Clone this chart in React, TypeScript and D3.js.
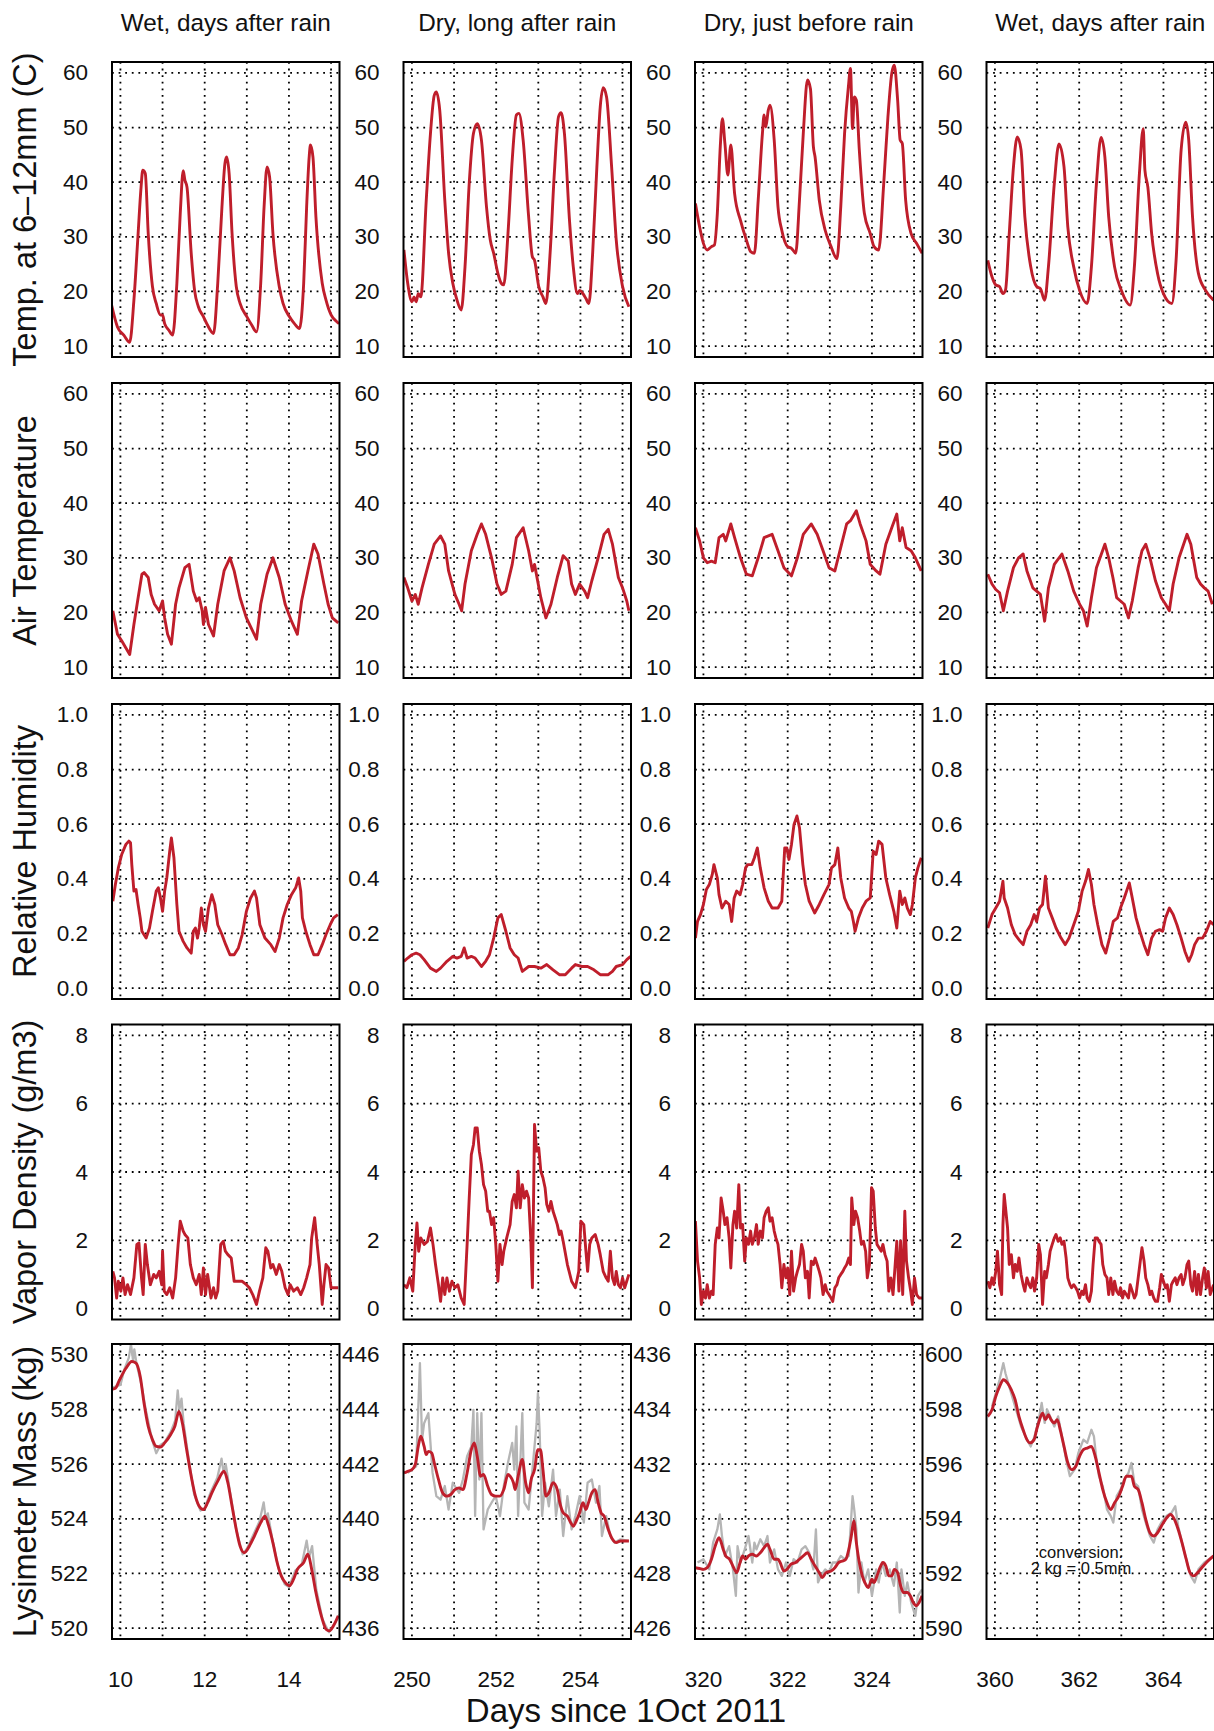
import React from "react";
import * as d3 from "d3";

type P = [number, number];

// ---------- labels ----------
const columnTitles = ["Wet, days after rain", "Dry, long after rain", "Dry, just before rain", "Wet, days after rain"];
const rowLabels = ["Temp. at 6\u201312mm (C)", "Air Temperature", "Relative Humidity", "Vapor Density (g/m3)", "Lysimeter Mass (kg)"];
const dayStarts = [10, 250, 320, 360];
const xTickOffsets = [0, 2, 4];
const tempTicks = [10, 20, 30, 40, 50, 60];
const rhTicks = [0, 0.2, 0.4, 0.6, 0.8, 1.0];
const vdTicks = [0, 2, 4, 6, 8];
const lysBases = [520, 436, 426, 590];
const lysTickSteps = [0, 2, 4, 6, 8, 10];
const xAxisTitle = "Days since 1Oct 2011";
const conversionNote = ["conversion:", "2 kg = 0.5mm"];

// ---------- Row 1: soil temperature at 6-12mm ----------
const soilT_wet1: P[] = [[9.79,17.5],[9.93,13.5],[10.08,12.0],[10.22,10.7],[10.32,18.4],[10.42,30.6],[10.49,39.1],[10.53,42.2],[10.59,41.6],[10.66,30.6],[10.76,20.9],[10.85,17.8],[10.95,15.7],[11.0,15.7],[11.05,14.1],[11.15,12.9],[11.24,12.0],[11.34,21.5],[11.42,34.3],[11.49,42.1],[11.53,40.4],[11.58,39.1],[11.68,27.0],[11.76,20.2],[11.85,17.2],[11.97,15.4],[12.07,13.8],[12.21,12.3],[12.31,21.5],[12.41,35.5],[12.48,43.4],[12.52,44.6],[12.58,41.6],[12.65,30.6],[12.75,20.9],[12.84,17.8],[13.0,15.4],[13.12,13.8],[13.23,12.6],[13.33,21.5],[13.41,35.5],[13.48,42.8],[13.54,41.0],[13.62,30.6],[13.77,20.9],[13.86,17.8],[14.01,15.4],[14.13,14.1],[14.25,13.2],[14.35,21.5],[14.42,35.5],[14.48,44.6],[14.51,46.8],[14.57,44.6],[14.64,33.7],[14.79,21.5],[14.88,18.4],[15.0,15.7],[15.13,14.5],[15.19,14.1]];
const soilT_dry1: P[] = [[249.81,27.6],[249.9,21.5],[250.0,18.1],[250.05,19.0],[250.1,18.1],[250.15,19.6],[250.21,19.0],[250.34,36.7],[250.44,48.9],[250.53,55.9],[250.58,56.5],[250.66,53.2],[250.78,36.7],[250.87,27.0],[250.97,21.5],[251.07,18.4],[251.17,16.6],[251.26,24.5],[251.36,39.8],[251.46,48.9],[251.55,50.7],[251.65,47.7],[251.77,35.5],[251.86,29.4],[251.94,27.0],[252.04,23.3],[252.12,21.5],[252.18,21.2],[252.28,30.6],[252.38,44.0],[252.48,52.3],[252.54,52.6],[252.64,47.7],[252.77,33.7],[252.86,26.3],[252.91,25.7],[253.01,20.9],[253.11,19.0],[253.18,17.8],[253.28,27.0],[253.38,41.6],[253.48,52.0],[253.54,52.7],[253.62,48.9],[253.74,33.0],[253.83,24.5],[253.93,19.6],[253.98,20.2],[254.06,19.6],[254.13,18.7],[254.2,17.8],[254.29,27.0],[254.39,42.8],[254.47,53.8],[254.54,57.3],[254.62,55.6],[254.74,42.8],[254.85,29.4],[255.0,20.9],[255.15,17.2]];
const soilT_dry2: P[] = [[319.81,36.1],[319.91,31.8],[320.0,28.8],[320.09,27.6],[320.19,28.2],[320.26,28.5],[320.33,34.3],[320.4,46.5],[320.45,51.6],[320.51,47.1],[320.58,41.3],[320.65,46.8],[320.74,37.9],[320.88,33.0],[321.02,29.4],[321.12,27.3],[321.21,27.0],[321.3,36.7],[321.4,48.9],[321.44,52.3],[321.48,50.1],[321.54,53.2],[321.58,54.1],[321.68,47.7],[321.77,35.5],[321.86,31.2],[322.0,28.2],[322.09,27.9],[322.19,27.0],[322.28,36.7],[322.37,48.9],[322.47,58.7],[322.54,57.1],[322.61,46.5],[322.65,44.6],[322.75,36.7],[322.89,31.2],[323.03,28.2],[323.17,26.0],[323.26,35.5],[323.35,48.9],[323.44,57.4],[323.49,60.8],[323.54,49.8],[323.58,55.6],[323.63,55.0],[323.7,45.9],[323.82,34.3],[323.96,30.6],[324.05,28.2],[324.16,27.6],[324.28,39.8],[324.38,52.0],[324.47,59.9],[324.53,61.4],[324.61,55.0],[324.67,47.7],[324.72,47.1],[324.8,36.7],[324.93,30.6],[325.06,28.8],[325.19,27.0]];
const soilT_wet2: P[] = [[359.83,25.7],[359.93,22.7],[360.02,21.2],[360.11,20.9],[360.19,19.6],[360.25,20.2],[360.34,30.6],[360.44,42.8],[360.53,48.3],[360.62,45.9],[360.71,33.7],[360.85,24.5],[360.99,20.9],[361.08,20.5],[361.18,18.4],[361.27,24.5],[361.41,39.8],[361.52,47.0],[361.64,42.8],[361.73,31.8],[361.87,24.5],[362.01,20.2],[362.19,17.8],[362.29,24.5],[362.41,39.8],[362.52,48.2],[362.61,44.6],[362.7,33.7],[362.84,24.5],[363.0,20.2],[363.21,17.5],[363.31,24.5],[363.43,41.6],[363.52,49.8],[363.56,42.2],[363.63,39.1],[363.72,30.6],[363.86,23.3],[364.0,19.6],[364.2,17.8],[364.3,25.7],[364.42,45.9],[364.53,51.0],[364.6,47.7],[364.69,33.7],[364.83,23.3],[365.0,20.2],[365.19,18.4]];

// ---------- Row 2: air temperature ----------
const airT_wet1: P[] = [[9.82,20.3],[9.93,16.0],[10.03,14.8],[10.13,13.5],[10.22,12.3],[10.32,17.8],[10.42,22.7],[10.51,27.0],[10.56,27.3],[10.66,26.4],[10.73,23.3],[10.81,21.5],[10.92,20.3],[11.0,22.1],[11.05,19.0],[11.12,16.0],[11.21,14.2],[11.31,21.5],[11.39,24.5],[11.53,28.2],[11.63,28.8],[11.73,23.9],[11.81,22.1],[11.87,22.7],[11.94,20.3],[11.97,17.8],[12.02,20.9],[12.09,17.8],[12.21,15.7],[12.31,21.5],[12.46,27.6],[12.6,30.0],[12.7,27.6],[12.84,22.7],[12.99,19.0],[13.14,16.6],[13.23,15.1],[13.33,21.5],[13.48,27.0],[13.62,30.0],[13.77,26.4],[13.91,21.5],[14.06,18.4],[14.2,16.0],[14.3,22.1],[14.45,27.6],[14.59,32.5],[14.69,30.7],[14.83,25.2],[14.93,21.5],[15.03,19.0],[15.17,18.1]];
const airT_dry1: P[] = [[249.81,26.4],[249.9,24.5],[250.0,22.1],[250.08,23.3],[250.15,21.5],[250.24,24.5],[250.39,28.8],[250.53,32.5],[250.68,34.0],[250.78,32.5],[250.87,27.6],[251.02,23.3],[251.12,21.5],[251.18,20.3],[251.26,25.2],[251.41,31.3],[251.55,34.3],[251.65,36.2],[251.75,34.3],[251.89,30.0],[252.02,25.2],[252.12,23.3],[252.23,23.9],[252.38,28.8],[252.48,33.7],[252.64,35.5],[252.77,31.3],[252.86,27.6],[252.91,28.8],[253.06,22.7],[253.18,19.0],[253.3,21.5],[253.45,26.4],[253.59,30.4],[253.71,29.4],[253.79,25.2],[253.88,23.3],[253.98,25.2],[254.1,23.9],[254.17,22.7],[254.27,25.8],[254.42,30.0],[254.56,34.3],[254.66,35.2],[254.76,32.5],[254.9,26.4],[255.0,24.5],[255.1,22.1],[255.15,20.3]];
const airT_dry2: P[] = [[319.81,35.5],[319.91,33.1],[320.0,30.0],[320.09,29.1],[320.19,29.4],[320.28,29.1],[320.37,33.7],[320.47,34.3],[320.53,33.1],[320.65,36.2],[320.74,33.7],[320.88,30.0],[321.02,27.0],[321.16,26.7],[321.3,30.0],[321.44,33.7],[321.63,34.3],[321.77,31.3],[321.91,28.2],[322.09,26.7],[322.23,30.0],[322.37,34.3],[322.56,36.2],[322.7,34.3],[322.84,31.3],[322.98,28.2],[323.12,27.6],[323.26,31.9],[323.4,36.2],[323.49,36.8],[323.63,38.6],[323.72,36.2],[323.86,33.1],[323.96,28.8],[324.1,27.6],[324.19,27.0],[324.33,32.5],[324.47,35.5],[324.59,38.0],[324.66,33.1],[324.72,35.5],[324.81,31.9],[324.93,31.3],[325.03,30.0],[325.17,27.6]];
const airT_wet2: P[] = [[359.83,27.0],[359.93,25.2],[360.02,24.2],[360.11,23.6],[360.2,20.3],[360.3,23.9],[360.44,28.2],[360.56,30.0],[360.67,30.7],[360.76,27.6],[360.9,24.5],[360.99,23.9],[361.08,23.3],[361.18,18.4],[361.27,24.5],[361.41,28.8],[361.59,30.7],[361.73,27.6],[361.87,23.9],[362.01,21.5],[362.1,20.3],[362.19,17.5],[362.29,22.7],[362.41,28.2],[362.61,32.5],[362.7,30.0],[362.8,26.4],[362.89,22.7],[362.98,22.1],[363.07,21.5],[363.17,19.0],[363.26,22.1],[363.4,28.2],[363.49,31.3],[363.58,32.5],[363.68,30.0],[363.81,25.8],[363.95,22.7],[364.05,21.5],[364.14,20.3],[364.23,25.2],[364.37,30.0],[364.56,34.3],[364.65,32.5],[364.79,26.4],[364.88,25.2],[364.97,24.5],[365.06,23.9],[365.16,21.5]];

// ---------- Row 3: relative humidity ----------
const rh_wet1: P[] = [[9.82,0.318],[9.88,0.379],[9.95,0.44],[10.03,0.489],[10.13,0.526],[10.2,0.538],[10.24,0.532],[10.27,0.452],[10.32,0.355],[10.37,0.361],[10.42,0.306],[10.47,0.257],[10.51,0.208],[10.61,0.183],[10.69,0.22],[10.76,0.281],[10.85,0.355],[10.9,0.367],[10.95,0.33],[11.0,0.281],[11.05,0.355],[11.1,0.403],[11.17,0.501],[11.21,0.55],[11.27,0.477],[11.34,0.306],[11.39,0.208],[11.49,0.171],[11.58,0.147],[11.68,0.128],[11.73,0.208],[11.78,0.22],[11.83,0.183],[11.87,0.22],[11.92,0.293],[11.97,0.232],[12.02,0.208],[12.09,0.293],[12.17,0.342],[12.24,0.306],[12.31,0.232],[12.41,0.196],[12.5,0.159],[12.6,0.122],[12.7,0.122],[12.8,0.147],[12.89,0.196],[12.99,0.281],[13.09,0.33],[13.18,0.355],[13.23,0.33],[13.31,0.232],[13.43,0.183],[13.57,0.159],[13.67,0.134],[13.77,0.183],[13.86,0.257],[13.96,0.306],[14.06,0.342],[14.16,0.367],[14.23,0.403],[14.28,0.355],[14.32,0.257],[14.4,0.208],[14.5,0.159],[14.59,0.122],[14.69,0.122],[14.79,0.159],[14.88,0.196],[14.98,0.232],[15.06,0.257],[15.16,0.269]];
const rh_dry1: P[] = [[249.81,0.098],[249.9,0.11],[250.0,0.122],[250.1,0.128],[250.19,0.122],[250.29,0.104],[250.44,0.073],[250.58,0.061],[250.68,0.073],[250.83,0.098],[250.97,0.116],[251.07,0.11],[251.17,0.116],[251.24,0.147],[251.31,0.11],[251.41,0.116],[251.5,0.11],[251.65,0.079],[251.75,0.098],[251.84,0.122],[251.94,0.183],[252.04,0.257],[252.12,0.269],[252.23,0.208],[252.33,0.147],[252.43,0.122],[252.52,0.11],[252.62,0.061],[252.77,0.079],[252.91,0.079],[253.06,0.073],[253.2,0.086],[253.35,0.067],[253.5,0.049],[253.64,0.049],[253.79,0.073],[253.88,0.086],[254.03,0.079],[254.17,0.079],[254.32,0.067],[254.47,0.049],[254.66,0.049],[254.76,0.061],[254.85,0.079],[255.0,0.086],[255.1,0.104],[255.19,0.116]];
const rh_dry2: P[] = [[319.81,0.183],[319.86,0.244],[319.93,0.269],[320.0,0.306],[320.07,0.361],[320.14,0.379],[320.21,0.416],[320.25,0.452],[320.33,0.403],[320.37,0.342],[320.44,0.293],[320.53,0.318],[320.61,0.306],[320.67,0.244],[320.73,0.33],[320.79,0.355],[320.87,0.342],[320.93,0.379],[321.0,0.44],[321.05,0.452],[321.15,0.452],[321.21,0.477],[321.28,0.513],[321.35,0.44],[321.44,0.367],[321.54,0.318],[321.63,0.293],[321.77,0.293],[321.86,0.318],[321.93,0.513],[321.98,0.513],[322.03,0.471],[322.09,0.526],[322.15,0.599],[322.22,0.63],[322.28,0.587],[322.36,0.452],[322.42,0.379],[322.51,0.318],[322.64,0.275],[322.75,0.306],[322.86,0.342],[322.98,0.379],[323.04,0.44],[323.12,0.452],[323.19,0.513],[323.26,0.403],[323.35,0.33],[323.45,0.293],[323.51,0.281],[323.56,0.244],[323.6,0.208],[323.68,0.257],[323.77,0.293],[323.86,0.318],[323.96,0.33],[324.03,0.501],[324.1,0.489],[324.16,0.538],[324.24,0.526],[324.33,0.403],[324.42,0.342],[324.52,0.281],[324.59,0.22],[324.66,0.355],[324.72,0.306],[324.78,0.33],[324.84,0.293],[324.91,0.269],[324.96,0.306],[325.03,0.403],[325.09,0.44],[325.17,0.477]];
const rh_wet2: P[] = [[359.83,0.22],[359.93,0.269],[360.02,0.293],[360.11,0.318],[360.19,0.391],[360.22,0.33],[360.3,0.293],[360.39,0.232],[360.48,0.196],[360.57,0.177],[360.67,0.159],[360.76,0.208],[360.85,0.232],[360.93,0.269],[360.99,0.244],[361.06,0.293],[361.13,0.306],[361.2,0.41],[361.27,0.293],[361.36,0.257],[361.45,0.22],[361.57,0.183],[361.67,0.159],[361.76,0.183],[361.87,0.232],[361.98,0.281],[362.07,0.355],[362.15,0.391],[362.22,0.434],[362.29,0.379],[362.35,0.306],[362.44,0.232],[362.54,0.159],[362.63,0.128],[362.72,0.183],[362.81,0.244],[362.91,0.257],[362.98,0.293],[363.07,0.33],[363.19,0.385],[363.26,0.33],[363.35,0.257],[363.44,0.208],[363.54,0.159],[363.63,0.122],[363.72,0.183],[363.81,0.208],[363.91,0.214],[363.98,0.208],[364.05,0.257],[364.14,0.293],[364.23,0.269],[364.32,0.232],[364.42,0.183],[364.51,0.134],[364.6,0.098],[364.67,0.122],[364.74,0.159],[364.83,0.183],[364.93,0.183],[365.02,0.208],[365.11,0.244],[365.19,0.232]];

// ---------- Row 4: vapor density ----------
const vd_wet1: P[] = [[9.82,1.09],[9.86,0.9],[9.91,0.31],[9.95,0.8],[10.01,0.51],[10.06,0.9],[10.11,0.41],[10.17,0.7],[10.24,0.41],[10.32,0.9],[10.39,1.88],[10.44,1.92],[10.5,0.9],[10.54,0.41],[10.59,1.88],[10.64,1.29],[10.71,0.7],[10.79,1.0],[10.85,0.9],[10.92,1.09],[10.98,0.7],[11.0,1.68],[11.04,0.51],[11.1,0.41],[11.17,0.61],[11.24,0.31],[11.31,0.9],[11.37,1.88],[11.42,2.56],[11.49,2.27],[11.53,2.17],[11.6,2.07],[11.66,1.29],[11.73,0.9],[11.8,0.7],[11.87,1.0],[11.92,0.41],[11.97,1.19],[12.02,0.41],[12.07,1.0],[12.15,0.31],[12.21,0.61],[12.26,0.31],[12.31,0.51],[12.38,1.88],[12.44,1.97],[12.49,1.68],[12.55,1.58],[12.63,1.48],[12.7,0.8],[12.8,0.8],[12.89,0.8],[12.99,0.7],[13.06,0.61],[13.14,0.41],[13.23,0.12],[13.3,0.51],[13.38,0.9],[13.45,1.78],[13.5,1.68],[13.57,1.19],[13.62,1.29],[13.7,1.0],[13.77,1.29],[13.83,1.09],[13.91,0.61],[13.98,0.41],[14.03,0.7],[14.11,0.51],[14.2,0.61],[14.28,0.41],[14.35,0.61],[14.42,0.9],[14.5,1.29],[14.54,2.07],[14.61,2.66],[14.67,1.88],[14.72,1.29],[14.79,0.12],[14.83,0.7],[14.88,1.29],[14.94,1.19],[15.0,0.61],[15.08,0.61],[15.17,0.61]];
const vd_dry1: P[] = [[249.81,0.7],[249.88,0.61],[249.95,0.9],[250.02,0.51],[250.08,1.88],[250.12,2.51],[250.16,1.68],[250.21,2.07],[250.29,1.88],[250.37,1.97],[250.44,2.36],[250.5,1.88],[250.56,1.29],[250.63,0.7],[250.68,0.21],[250.73,0.9],[250.78,0.41],[250.83,0.9],[250.89,0.51],[250.95,0.8],[251.02,0.61],[251.09,0.7],[251.17,0.31],[251.24,0.12],[251.31,1.88],[251.36,3.24],[251.41,4.51],[251.46,4.8],[251.5,5.29],[251.55,5.29],[251.6,4.61],[251.65,4.22],[251.7,3.63],[251.75,3.44],[251.8,2.85],[251.84,2.85],[251.89,2.46],[251.94,2.66],[251.99,1.88],[252.04,0.8],[252.09,1.88],[252.14,1.29],[252.18,1.68],[252.25,2.07],[252.33,2.46],[252.38,3.14],[252.43,3.34],[252.48,2.95],[252.52,4.02],[252.57,2.95],[252.62,3.63],[252.67,3.24],[252.72,3.44],[252.77,3.24],[252.82,2.07],[252.86,0.61],[252.91,5.39],[252.96,4.61],[253.01,4.71],[253.06,4.02],[253.11,3.83],[253.16,3.54],[253.2,3.05],[253.25,2.85],[253.3,3.14],[253.35,2.85],[253.4,2.66],[253.45,2.46],[253.5,2.17],[253.54,2.27],[253.59,1.97],[253.69,1.29],[253.79,0.8],[253.88,0.61],[253.96,1.09],[254.01,2.56],[254.08,2.46],[254.13,1.68],[254.17,1.09],[254.22,1.88],[254.27,2.07],[254.35,2.17],[254.42,1.88],[254.47,1.58],[254.54,1.09],[254.61,0.9],[254.66,0.8],[254.71,1.68],[254.76,0.9],[254.81,0.7],[254.85,1.09],[254.9,0.7],[254.95,0.61],[255.0,0.9],[255.05,0.61],[255.15,1.0]];
const vd_dry2: P[] = [[319.81,2.56],[319.86,1.39],[319.91,0.9],[319.95,0.12],[320.0,0.51],[320.05,0.31],[320.09,0.7],[320.14,0.31],[320.19,0.51],[320.23,0.41],[320.28,1.88],[320.33,2.36],[320.37,2.07],[320.42,3.24],[320.47,2.85],[320.51,2.46],[320.56,2.66],[320.61,2.07],[320.65,1.19],[320.7,2.46],[320.74,2.85],[320.79,2.36],[320.84,3.63],[320.88,2.36],[320.93,2.46],[320.98,1.39],[321.02,2.07],[321.07,1.88],[321.12,2.27],[321.16,1.88],[321.21,2.07],[321.26,2.46],[321.3,1.88],[321.35,2.27],[321.4,2.07],[321.44,2.66],[321.49,2.85],[321.54,2.95],[321.58,2.56],[321.63,2.66],[321.68,2.27],[321.72,2.07],[321.77,1.88],[321.82,1.29],[321.86,0.61],[321.91,1.29],[321.96,0.9],[322.0,1.19],[322.05,0.41],[322.09,1.68],[322.14,0.51],[322.19,0.9],[322.23,1.09],[322.28,1.29],[322.33,1.88],[322.37,1.68],[322.42,0.9],[322.47,1.09],[322.51,0.31],[322.56,1.39],[322.61,1.29],[322.65,1.48],[322.7,1.29],[322.75,1.09],[322.79,0.9],[322.84,0.41],[322.89,0.7],[322.93,0.51],[322.98,0.41],[323.03,0.31],[323.07,0.21],[323.12,0.61],[323.17,0.7],[323.21,0.9],[323.26,1.0],[323.31,1.09],[323.35,1.19],[323.4,1.29],[323.45,1.48],[323.49,1.29],[323.52,3.24],[323.57,2.46],[323.61,2.85],[323.66,2.66],[323.71,2.27],[323.75,1.88],[323.8,1.97],[323.85,1.68],[323.89,0.9],[323.94,1.29],[323.99,3.54],[324.03,3.44],[324.08,2.36],[324.12,1.88],[324.17,1.78],[324.22,1.68],[324.26,1.88],[324.31,1.58],[324.36,1.39],[324.4,0.51],[324.45,0.9],[324.5,0.41],[324.54,1.09],[324.59,1.97],[324.64,0.51],[324.68,1.97],[324.73,0.41],[324.78,2.85],[324.82,1.39],[324.87,0.9],[324.92,0.51],[324.96,0.12],[325.01,0.9],[325.06,0.41],[325.12,0.31],[325.19,0.31]];
const vd_wet2: P[] = [[359.83,0.8],[359.88,0.61],[359.93,0.9],[359.97,0.7],[360.02,1.09],[360.06,1.68],[360.11,0.7],[360.16,0.41],[360.19,2.46],[360.22,3.34],[360.26,2.85],[360.3,2.36],[360.34,1.29],[360.39,1.58],[360.44,0.9],[360.48,1.29],[360.53,1.09],[360.57,1.48],[360.62,1.0],[360.67,0.7],[360.71,0.51],[360.76,0.9],[360.81,0.7],[360.85,0.61],[360.9,0.9],[360.94,0.51],[360.99,0.9],[361.04,1.88],[361.08,1.58],[361.13,0.12],[361.18,1.09],[361.22,0.9],[361.27,1.29],[361.31,1.68],[361.36,1.88],[361.41,2.07],[361.45,2.17],[361.5,1.97],[361.55,2.07],[361.59,1.88],[361.64,1.97],[361.69,1.48],[361.73,0.9],[361.78,0.7],[361.82,0.61],[361.87,0.7],[361.92,0.61],[361.96,0.51],[362.01,0.31],[362.06,0.51],[362.1,0.41],[362.15,0.7],[362.19,0.31],[362.24,0.21],[362.29,0.51],[362.33,1.29],[362.38,2.07],[362.43,2.07],[362.47,1.97],[362.52,1.88],[362.56,1.29],[362.61,1.0],[362.66,0.9],[362.7,0.41],[362.75,0.9],[362.8,0.41],[362.84,0.8],[362.89,0.51],[362.94,0.41],[362.98,0.61],[363.03,0.31],[363.07,0.51],[363.12,0.41],[363.17,0.31],[363.21,0.7],[363.26,0.51],[363.31,0.31],[363.35,0.41],[363.4,0.9],[363.44,1.29],[363.49,1.78],[363.54,1.39],[363.58,0.9],[363.63,0.7],[363.68,0.41],[363.72,0.51],[363.77,0.31],[363.81,0.21],[363.86,0.21],[363.91,0.61],[363.95,1.0],[364.0,0.8],[364.05,0.61],[364.09,0.7],[364.14,0.21],[364.19,0.7],[364.23,0.8],[364.28,0.9],[364.32,0.7],[364.37,0.9],[364.42,1.0],[364.46,0.7],[364.51,0.9],[364.56,1.29],[364.6,1.39],[364.65,0.7],[364.69,0.51],[364.74,1.09],[364.79,0.41],[364.83,1.0],[364.88,0.41],[364.93,0.9],[364.97,1.19],[365.02,0.61],[365.06,1.09],[365.11,0.41],[365.19,0.7]];

// ---------- Row 5: lysimeter mass (red = smoothed, gray = raw) ----------
const lys_wet1: P[] = [[9.82,528.75],[9.88,528.78],[9.98,529.09],[10.13,529.51],[10.27,529.76],[10.37,529.7],[10.47,529.21],[10.56,528.24],[10.66,527.38],[10.76,526.9],[10.85,526.65],[10.95,526.63],[11.05,526.78],[11.19,527.08],[11.29,527.38],[11.39,527.93],[11.47,527.51],[11.56,526.65],[11.68,525.56],[11.78,524.83],[11.87,524.46],[11.97,524.34],[12.07,524.59],[12.17,524.95],[12.31,525.38],[12.46,525.74],[12.55,525.32],[12.65,524.46],[12.75,523.61],[12.84,523.0],[12.94,522.76],[13.06,523.0],[13.18,523.37],[13.33,523.86],[13.43,524.1],[13.52,523.73],[13.62,523.12],[13.72,522.4],[13.82,521.9],[13.91,521.67],[14.01,521.55],[14.11,521.79],[14.2,522.15],[14.35,522.4],[14.45,522.7],[14.54,522.15],[14.64,521.3],[14.79,520.33],[14.88,519.96],[14.96,519.9],[15.06,520.09],[15.17,520.45]];
const lysRaw_wet1: P[] = [[9.8,528.8],[10.0,528.9],[10.1,529.5],[10.2,529.9],[10.25,530.4],[10.3,529.8],[10.33,530.2],[10.38,529.7],[10.5,528.9],[10.6,528.0],[10.75,526.9],[10.85,526.4],[10.95,526.7],[11.05,526.8],[11.2,527.2],[11.3,527.6],[11.36,528.7],[11.4,528.0],[11.45,528.4],[11.5,527.5],[11.6,526.4],[11.75,524.9],[11.9,524.3],[12.0,524.4],[12.15,525.0],[12.3,525.5],[12.4,526.2],[12.45,525.7],[12.5,526.0],[12.6,525.0],[12.75,523.6],[12.9,522.7],[13.0,522.9],[13.15,523.4],[13.3,523.9],[13.4,524.6],[13.45,524.0],[13.5,524.2],[13.6,523.3],[13.75,522.2],[13.9,521.6],[14.0,521.5],[14.15,522.1],[14.3,522.3],[14.42,523.2],[14.48,522.6],[14.55,523.0],[14.65,521.4],[14.8,520.3],[14.95,519.85],[15.1,520.2],[15.2,520.5]];
const lys_dry1: P[] = [[249.81,441.68],[249.9,441.74],[250.0,441.8],[250.08,441.99],[250.15,442.65],[250.21,443.02],[250.29,442.65],[250.34,442.35],[250.39,442.47],[250.47,442.41],[250.53,442.05],[250.63,441.44],[250.73,440.95],[250.83,440.83],[250.92,440.89],[251.02,441.07],[251.12,441.13],[251.21,441.07],[251.31,441.68],[251.41,442.53],[251.48,442.78],[251.55,442.29],[251.63,441.56],[251.7,441.62],[251.8,441.19],[251.89,440.89],[251.99,440.83],[252.09,440.83],[252.18,441.07],[252.28,441.62],[252.33,441.56],[252.41,441.32],[252.45,441.07],[252.52,441.56],[252.62,442.17],[252.7,441.32],[252.77,440.95],[252.83,441.44],[252.91,441.8],[252.99,442.53],[253.05,442.53],[253.11,441.8],[253.18,440.83],[253.25,440.95],[253.35,441.32],[253.45,441.07],[253.51,440.59],[253.59,440.22],[253.69,440.1],[253.77,439.86],[253.83,439.73],[253.9,439.92],[253.98,440.22],[254.06,440.59],[254.13,440.34],[254.19,440.59],[254.27,440.95],[254.35,441.07],[254.42,440.59],[254.49,440.22],[254.56,440.1],[254.66,439.61],[254.76,439.25],[254.85,439.13],[254.95,439.19],[255.15,439.19]];
const lysRaw_dry1: P[] = [[249.9,441.68],[250.1,441.92],[250.19,445.7],[250.24,442.9],[250.29,443.5],[250.39,443.87],[250.49,441.68],[250.58,440.83],[250.68,440.7],[250.78,441.2],[250.87,440.34],[250.97,441.32],[251.12,440.95],[251.21,441.44],[251.31,442.29],[251.41,442.65],[251.46,443.99],[251.5,440.1],[251.55,443.87],[251.6,441.44],[251.65,443.87],[251.7,439.61],[251.8,440.34],[251.89,440.59],[251.99,440.83],[252.09,440.1],[252.18,441.2],[252.28,442.05],[252.38,442.78],[252.43,441.8],[252.48,443.38],[252.52,440.1],[252.62,443.87],[252.67,440.59],[252.77,440.34],[252.86,441.8],[252.96,443.5],[252.99,444.6],[253.03,443.26],[253.09,440.1],[253.16,441.32],[253.25,440.46],[253.35,441.8],[253.42,440.1],[253.51,441.07],[253.59,439.37],[253.69,440.83],[253.79,439.61],[253.88,440.1],[253.98,440.83],[254.08,439.86],[254.17,441.32],[254.27,441.44],[254.37,440.59],[254.45,441.2],[254.51,439.37],[254.61,440.1],[254.71,439.37],[254.81,439.13],[254.95,439.25],[255.15,439.19]];
const lys_dry2: P[] = [[319.81,428.21],[319.91,428.18],[320.0,428.15],[320.09,428.21],[320.19,428.52],[320.28,429.0],[320.37,429.31],[320.47,428.88],[320.53,428.64],[320.62,428.52],[320.7,428.27],[320.79,428.03],[320.87,428.4],[320.93,428.64],[321.0,428.52],[321.07,428.64],[321.16,428.7],[321.26,428.64],[321.35,428.76],[321.44,428.94],[321.52,429.07],[321.58,428.88],[321.68,428.52],[321.77,428.52],[321.82,428.4],[321.91,428.09],[321.98,428.15],[322.08,428.34],[322.19,428.4],[322.28,428.52],[322.37,428.64],[322.47,428.76],[322.56,428.52],[322.65,428.27],[322.75,428.03],[322.82,427.85],[322.91,428.03],[323.03,428.09],[323.12,428.21],[323.21,428.4],[323.31,428.46],[323.38,428.52],[323.45,428.88],[323.51,429.37],[323.57,429.92],[323.63,429.13],[323.7,428.4],[323.77,427.91],[323.85,427.61],[323.91,427.48],[324.0,427.79],[324.05,427.67],[324.12,427.91],[324.19,428.21],[324.26,428.4],[324.33,428.27],[324.4,427.91],[324.47,427.91],[324.53,428.15],[324.61,428.03],[324.68,427.55],[324.75,427.3],[324.84,427.3],[324.91,427.18],[324.98,426.94],[325.06,426.82],[325.12,426.94],[325.19,427.18]];
const lysRaw_dry2: P[] = [[319.86,428.4],[320.0,428.52],[320.14,428.15],[320.23,429.13],[320.33,429.61],[320.39,430.16],[320.44,429.37],[320.51,428.64],[320.61,429.0],[320.7,428.15],[320.77,427.18],[320.81,429.0],[320.88,428.4],[320.98,428.88],[321.07,429.37],[321.16,428.4],[321.21,429.13],[321.26,428.88],[321.35,429.25],[321.44,429.0],[321.52,429.37],[321.58,428.4],[321.68,428.88],[321.77,428.15],[321.86,427.91],[321.96,428.4],[322.05,427.91],[322.14,428.52],[322.23,428.4],[322.33,428.88],[322.42,429.0],[322.51,428.76],[322.61,428.15],[322.67,429.61],[322.72,427.67],[322.79,427.91],[322.89,428.15],[322.98,428.03],[323.07,428.4],[323.17,428.4],[323.26,428.64],[323.35,428.52],[323.45,428.64],[323.54,430.83],[323.58,430.34],[323.63,429.61],[323.68,427.3],[323.75,428.4],[323.82,427.67],[323.91,428.15],[324.0,427.18],[324.1,428.15],[324.16,427.67],[324.24,428.4],[324.33,427.91],[324.42,428.15],[324.52,427.55],[324.59,428.4],[324.66,426.57],[324.7,428.15],[324.78,427.18],[324.84,427.67],[324.93,426.94],[325.03,426.45],[325.09,427.18],[325.19,427.42]];
const lys_wet2: P[] = [[359.83,597.75],[359.93,597.99],[360.02,598.48],[360.11,598.84],[360.2,599.09],[360.3,598.97],[360.39,598.72],[360.48,598.36],[360.57,597.75],[360.67,597.26],[360.76,596.9],[360.83,596.78],[360.93,596.9],[360.99,597.26],[361.06,597.63],[361.13,597.87],[361.2,597.63],[361.27,597.81],[361.33,597.63],[361.41,597.51],[361.48,597.63],[361.55,597.26],[361.64,596.65],[361.73,596.05],[361.82,595.8],[361.92,595.92],[362.01,596.29],[362.1,596.53],[362.19,596.59],[362.29,596.65],[362.38,596.29],[362.47,595.68],[362.56,595.07],[362.66,594.59],[362.75,594.34],[362.84,594.59],[362.94,594.83],[363.03,595.19],[363.12,595.56],[363.24,595.56],[363.31,595.19],[363.4,595.07],[363.49,594.59],[363.58,593.98],[363.68,593.49],[363.77,593.37],[363.86,593.49],[363.95,593.73],[364.05,593.98],[364.17,594.16],[364.26,593.98],[364.35,593.61],[364.44,593.13],[364.54,592.52],[364.63,592.03],[364.72,591.91],[364.81,592.03],[364.91,592.21],[365.02,592.4],[365.19,592.64]];
const lysRaw_wet2: P[] = [[359.93,598.11],[360.11,599.09],[360.2,599.7],[360.25,599.33],[360.34,598.84],[360.48,598.11],[360.62,597.38],[360.76,596.9],[360.85,596.65],[360.94,597.02],[361.04,597.63],[361.11,598.24],[361.18,597.51],[361.24,597.99],[361.31,597.75],[361.41,597.38],[361.5,597.75],[361.59,597.02],[361.69,596.17],[361.78,595.56],[361.89,595.8],[361.98,596.41],[362.1,596.9],[362.19,596.78],[362.29,597.26],[362.35,597.02],[362.41,596.17],[362.47,595.56],[362.56,595.19],[362.66,594.34],[362.75,594.1],[362.81,593.86],[362.89,594.83],[362.98,595.07],[363.07,595.44],[363.17,595.68],[363.24,596.05],[363.31,595.32],[363.4,595.19],[363.49,594.34],[363.58,593.86],[363.68,593.37],[363.77,593.13],[363.86,593.61],[363.95,593.86],[364.07,594.1],[364.19,594.22],[364.28,594.46],[364.35,593.73],[364.46,593.0],[364.56,592.4],[364.65,591.91],[364.74,591.67],[364.83,592.15],[364.97,592.4],[365.19,592.64]];

// ---------- layout / style ----------
const FONT = "'Liberation Sans', Arial, Helvetica, sans-serif";
const RED = "#bf1e2b";
const GRAY = "#b5b5b5";
const PW = 227.5;
const PH = 295;
const colX = [112, 403.5, 695, 986.5];
const rowY = [62, 383, 704, 1024.5, 1344];

type RowSpec = {
  red: P[][];
  gray?: P[][];
  ticks: (c: number) => number[];
  fmt: (v: number) => string;
  curve: d3.CurveFactory;
};

const rows: RowSpec[] = [
  { red: [soilT_wet1, soilT_dry1, soilT_dry2, soilT_wet2], ticks: () => tempTicks, fmt: d3.format("d"), curve: d3.curveMonotoneX },
  { red: [airT_wet1, airT_dry1, airT_dry2, airT_wet2], ticks: () => tempTicks, fmt: d3.format("d"), curve: d3.curveLinear },
  { red: [rh_wet1, rh_dry1, rh_dry2, rh_wet2], ticks: () => rhTicks, fmt: d3.format(".1f"), curve: d3.curveLinear },
  { red: [vd_wet1, vd_dry1, vd_dry2, vd_wet2], ticks: () => vdTicks, fmt: d3.format("d"), curve: d3.curveLinear },
  {
    red: [lys_wet1, lys_dry1, lys_dry2, lys_wet2],
    gray: [lysRaw_wet1, lysRaw_dry1, lysRaw_dry2, lysRaw_wet2],
    ticks: (c: number) => lysTickSteps.map((s) => lysBases[c] + s),
    fmt: d3.format("d"),
    curve: d3.curveMonotoneX,
  },
];

function Panel({ r, c }: { r: number; c: number }) {
  const spec = rows[r];
  const start = dayStarts[c];
  const ticks = spec.ticks(c);
  const lo = ticks[0];
  const hi = ticks[ticks.length - 1];
  const pad = (hi - lo) * 0.04;
  const xs = d3.scaleLinear().domain([start - 0.2, start + 5.2]).range([0, PW]);
  const ys = d3.scaleLinear().domain([lo - pad, hi + pad]).range([PH, 0]);
  const line = d3
    .line<P>()
    .x((d) => xs(d[0]))
    .y((d) => ys(d[1]));
  const gridDays = d3.range(0, 6).map((i) => start + i);
  const clipId = `clip-${r}-${c}`;
  const dots = { stroke: "#000", strokeWidth: 1.8, strokeDasharray: "1.8 4.8", fill: "none" } as const;
  return (
    <g transform={`translate(${colX[c]},${rowY[r]})`}>
      <defs>
        <clipPath id={clipId}>
          <rect x={0} y={0} width={PW} height={PH} />
        </clipPath>
      </defs>
      {gridDays.map((d) => (
        <line key={`v${d}`} x1={xs(d)} x2={xs(d)} y1={0} y2={PH} {...dots} />
      ))}
      {ticks.map((t) => (
        <line key={`h${t}`} x1={0} x2={PW} y1={ys(t)} y2={ys(t)} {...dots} />
      ))}
      <g clipPath={`url(#${clipId})`}>
        {spec.gray && (
          <path d={line.curve(d3.curveLinear)(spec.gray[c]) || ""} fill="none" stroke={GRAY} strokeWidth={2.3} strokeLinejoin="round" />
        )}
        <path d={line.curve(spec.curve)(spec.red[c]) || ""} fill="none" stroke={RED} strokeWidth={2.9} strokeLinejoin="round" />
      </g>
      <rect x={0} y={0} width={PW} height={PH} fill="none" stroke="#000" strokeWidth={2} />
      {ticks.map((t) => (
        <text key={`t${t}`} x={-24} y={ys(t)} textAnchor="end" dominantBaseline="central" fontSize={22.5} fill="#111">
          {spec.fmt(t)}
        </text>
      ))}
      {r === rows.length - 1 &&
        xTickOffsets.map((o) => (
          <text key={`x${o}`} x={xs(start + o)} y={PH + 40} textAnchor="middle" dominantBaseline="central" fontSize={22.5} fill="#111">
            {start + o}
          </text>
        ))}
    </g>
  );
}

export default function App() {
  return (
    <svg
      width={1214}
      height={1731}
      viewBox="0 0 1214 1731"
      style={{ position: "absolute", left: 0, top: 0, display: "block" }}
      fontFamily={FONT}
    >
      <rect x={0} y={0} width={1214} height={1731} fill="#fff" />
      {columnTitles.map((t, c) => (
        <text key={`title${c}`} x={colX[c] + PW / 2} y={31} textAnchor="middle" fontSize={24.3} fill="#111">
          {t}
        </text>
      ))}
      {rowLabels.map((t, r) => (
        <text
          key={`rl${r}`}
          transform={`translate(36,${rowY[r] + PH / 2}) rotate(-90)`}
          textAnchor="middle"
          fontSize={32.5}
          fill="#111"
        >
          {t}
        </text>
      ))}
      {rows.map((_, r) => dayStarts.map((_, c) => <Panel key={`p${r}-${c}`} r={r} c={c} />))}
      <text x={626} y={1722} textAnchor="middle" fontSize={33} fill="#111">
        {xAxisTitle}
      </text>
      {conversionNote.map((t, i) => (
        <text key={`cn${i}`} x={1081} y={1558 + i * 16} textAnchor="middle" fontSize={16.5} fill="#111">
          {t}
        </text>
      ))}
    </svg>
  );
}
